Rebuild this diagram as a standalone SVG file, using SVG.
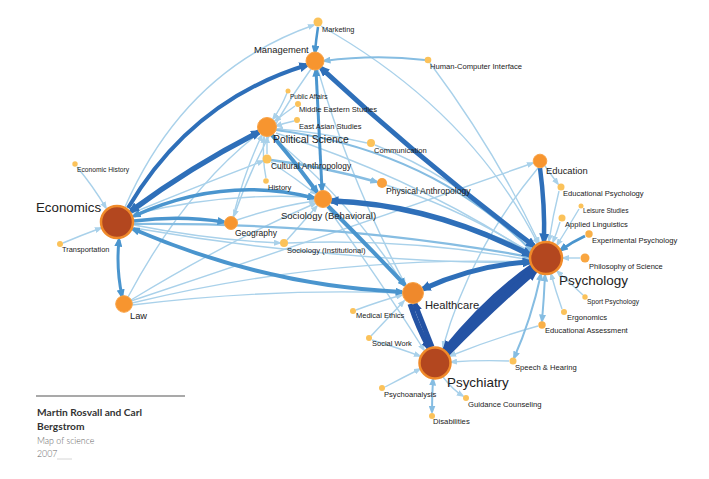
<svg xmlns="http://www.w3.org/2000/svg" width="709" height="479" viewBox="0 0 709 479">
<style>
.e{fill:none}
.c1{stroke:#a9d1ea;stroke-width:1.4}
.c2{stroke:#86bde2;stroke-width:2}
.c3{stroke:#4a95ce}
.c4{stroke:#2e6fb9}
.c5{stroke:#2453a4}
.big{fill:#b3471f;stroke:#f08a2a;stroke-width:2.5}
.mid{fill:#f7952f;stroke:#f9a448;stroke-width:1}
.sm{fill:#fbc25a}
text{font-family:"Liberation Sans",Arial,sans-serif;fill:#222}
.f6{font-size:6.6px}.f7{font-size:7.6px}.f8{font-size:8.5px}.f9{font-size:9.4px}.f10{font-size:10.4px}.f11{font-size:11.2px}.f13{font-size:13.4px}
.ft{font-family:Lato,"Liberation Sans",sans-serif}
</style>
<defs>
<marker id="m1" markerUnits="userSpaceOnUse" markerWidth="8" markerHeight="6" refX="6" refY="3" orient="auto-start-reverse"><path d="M0,0 L8,3 L0,6 z" fill="#a9d1ea"/></marker>
<marker id="m2" markerUnits="userSpaceOnUse" markerWidth="9" markerHeight="7" refX="6.5" refY="3.5" orient="auto-start-reverse"><path d="M0,0 L9,3.5 L0,7 z" fill="#86bde2"/></marker>
<marker id="m3" markerUnits="userSpaceOnUse" markerWidth="10" markerHeight="8" refX="6.5" refY="4" orient="auto-start-reverse"><path d="M0,0 L10,4 L0,8 z" fill="#4a95ce"/></marker>
<marker id="m4" markerUnits="userSpaceOnUse" markerWidth="12" markerHeight="10" refX="7.5" refY="5" orient="auto-start-reverse"><path d="M0,0 L12,5 L0,10 z" fill="#2e6fb9"/></marker>
<marker id="m5s" markerUnits="userSpaceOnUse" markerWidth="12" markerHeight="9" refX="7" refY="4.5" orient="auto-start-reverse"><path d="M0,0 L12,4.5 L0,9 z" fill="#2453a4"/></marker>
<marker id="m5" markerUnits="userSpaceOnUse" markerWidth="16" markerHeight="13" refX="9" refY="6.5" orient="auto-start-reverse"><path d="M0,0 L16,6.5 L0,13 z" fill="#2453a4"/></marker>
</defs>
<rect width="709" height="479" fill="#fff"/>
<g id="connectors" class="e">
<g class="c1" marker-end="url(#m1)">
<path d="M77,167 Q93,186 106,208"/>
<path d="M63,243 Q82,235 101,228"/>
<path d="M430,63 Q495,150 539,243"/>
<path d="M125,207 Q185,70 314,25"/>
<path d="M321,26 Q470,110 538,244"/>
<path d="M287,93 Q281,108 273,119"/>
<path d="M295,106 Q285,113 275,121"/>
<path d="M294,121 Q285,123 276,126"/>
<path d="M367,143 Q320,132 277,129"/>
<path d="M375,145 Q465,180 532,252"/>
<path d="M276,133 Q420,180 531,254"/>
<path d="M267,154 Q267,146 267,137"/>
<path d="M271,162 Q295,178 316,194"/>
<path d="M266,178 Q262,158 264,137"/>
<path d="M233,217 Q245,170 262,135"/>
<path d="M311,69 Q260,140 234,216"/>
<path d="M237,220 Q278,206 315,201"/>
<path d="M287,240 Q303,222 317,206"/>
<path d="M288,243 Q410,238 530,260"/>
<path d="M134,228 Q330,262 530,263"/>
<path d="M134,214 Q340,165 531,251"/>
<path d="M134,225 Q210,240 280,243"/>
<path d="M132,213 Q200,185 263,161"/>
<path d="M131,301 Q330,235 533,163"/>
<path d="M128,297 Q185,190 259,133"/>
<path d="M131,300 Q230,240 316,203"/>
<path d="M132,303 Q330,255 530,262"/>
<path d="M132,305 Q270,288 402,293"/>
<path d="M356,310 Q380,301 402,295"/>
<path d="M371,336 Q388,318 404,301"/>
<path d="M372,340 Q398,348 420,356"/>
<path d="M385,387 Q402,378 420,369"/>
<path d="M443,377 Q453,390 463,396"/>
<path d="M509,361 Q480,360 451,362"/>
<path d="M538,326 Q495,338 450,356"/>
<path d="M562,309 Q556,292 551,274"/>
<path d="M583,295 Q570,283 557,271"/>
<path d="M580,258 Q572,258 563,258"/>
<path d="M560,222 Q557,232 553,242"/>
<path d="M579,209 Q569,226 557,245"/>
<path d="M559,191 Q553,215 549,241"/>
<path d="M545,166 Q552,176 558,184"/>
<path d="M327,207 Q380,280 424,350"/>
<path d="M271,136 Q350,200 404,285"/>
<path d="M318,70 Q350,180 405,284"/>
<path d="M386,185 Q460,208 531,253"/>
<path d="M538,168 Q470,250 443,347"/>
</g>
<g class="c2" marker-end="url(#m2)">
<path d="M425,60 Q375,54 324,61" style="stroke-width:1.8"/>
<path d="M276,130 Q430,150 532,251"/>
<path d="M134,224 Q340,222 530,257" style="stroke-width:2.2"/>
<path d="M433,379 Q432,396 432,412" marker-start="url(#m2)"/>
<path d="M514,358 Q531,320 541,274" marker-start="url(#m2)"/>
<path d="M542,321 Q544,298 545,275" marker-start="url(#m2)"/>
<path d="M271,160 Q325,167 377,182" style="stroke-width:2.5"/>
</g>
<g class="c3" marker-end="url(#m3)">
<path d="M134,216 Q224,175 314,198" style="stroke-width:3.5" marker-start="url(#m3)"/>
<path d="M134,221 Q180,215 224,222" style="stroke-width:3.5"/>
<path d="M133,229 Q266,286 402,292" style="stroke-width:4" marker-start="url(#m3)"/>
<path d="M272,135 Q296,163 317,192" style="stroke-width:4"/>
<path d="M328,206 Q365,243 405,285" style="stroke-width:4"/>
<path d="M316,70 Q319,130 322,190" style="stroke-width:3" marker-start="url(#m3)"/>
<path d="M119,240 Q116,268 122,296" style="stroke-width:3" marker-start="url(#m3)"/>
<path d="M318,27 Q316,40 315,52" style="stroke-width:2.5"/>
<path d="M585,236 Q572,242 561,250" style="stroke-width:3"/>
</g>
<g class="c4" marker-end="url(#m4)">
<path d="M321,68 Q420,160 534,246" style="stroke-width:5" marker-start="url(#m4)"/>
<path d="M131,211 Q192,166 259,132" style="stroke-width:5.5" marker-start="url(#m4)"/>
<path d="M128,208 Q192,100 307,65" style="stroke-width:4"/>
<path d="M331,201 Q431,204 530,255" style="stroke-width:5.5" marker-start="url(#m4)"/>
<path d="M423,289 Q476,265 530,262" style="stroke-width:5" marker-start="url(#m4)"/>
<path d="M540,168 Q545,205 544,241" style="stroke-width:4.5"/>
</g>
<g class="c5">
<path d="M410,304 Q418,328 429,348" style="stroke-width:5" marker-end="url(#m5s)"/>
<path d="M432,347 Q423,324 415,304" style="stroke-width:5" marker-end="url(#m5s)"/>
<path d="M533,267 Q489,297 445,351" style="stroke-width:7" marker-end="url(#m5)"/>
<path d="M446,354 Q492,307 535,270" style="stroke-width:7" marker-end="url(#m5)"/>
</g>
</g>
<g id="nodes">
<g id="marketing"><circle class="sm" cx="318" cy="22" r="4.5"/><text class="f7" x="322" y="32" style="font-size:7.4px">Marketing</text></g>
<g id="management"><circle class="mid" cx="315" cy="61" r="9"/><text class="f9" x="254" y="53">Management</text></g>
<g id="hci"><circle class="sm" cx="428" cy="60" r="3.3"/><text class="f7" x="430" y="69">Human-Computer Interface</text></g>
<g id="public-affairs"><circle class="sm" cx="288" cy="91" r="2.5"/><text x="290" y="99" style="font-size:6.5px">Public Affairs</text></g>
<g id="middle-eastern"><circle class="sm" cx="298" cy="104" r="3"/><text class="f7" x="299" y="112">Middle Eastern Studies</text></g>
<g id="east-asian"><circle class="sm" cx="297" cy="120" r="3"/><text class="f7" x="299" y="129" style="font-size:7.5px">East Asian Studies</text></g>
<g id="political-science"><circle class="mid" cx="267" cy="127" r="9.5"/><text class="f10" x="273" y="143">Political Science</text></g>
<g id="communication"><circle class="sm" cx="371" cy="143" r="4"/><text class="f7" x="374" y="153">Communication</text></g>
<g id="cultural-anthropology"><circle class="sm" cx="267" cy="159" r="4.5"/><text x="271" y="169" style="font-size:8.4px">Cultural Anthropology</text></g>
<g id="history"><circle class="sm" cx="266" cy="181" r="2.8"/><text class="f7" x="268" y="190" style="font-size:7.5px">History</text></g>
<g id="physical-anthropology"><circle class="mid" cx="382" cy="183" r="5" style="stroke:none;fill:#f9a03c"/><text x="386" y="194" style="font-size:8.6px">Physical Anthropology</text></g>
<g id="sociology-behavioral"><circle class="mid" cx="323" cy="199" r="8.5"/><text x="281" y="219" style="font-size:9.5px">Sociology (Behavioral)</text></g>
<g id="geography"><circle class="mid" cx="231" cy="223" r="6.5"/><text class="f8" x="235" y="236">Geography</text></g>
<g id="sociology-institutional"><circle class="sm" cx="284" cy="243" r="4"/><text class="f7" x="287" y="253">Sociology (Institutional)</text></g>
<g id="economics"><circle class="big" cx="117" cy="222" r="16"/><text class="f13" x="36" y="212" style="font-size:13.3px">Economics</text></g>
<g id="economic-history"><circle class="sm" cx="75" cy="164" r="2.7"/><text x="77" y="172" style="font-size:6.7px">Economic History</text></g>
<g id="transportation"><circle class="sm" cx="60" cy="244" r="3"/><text x="62" y="252" style="font-size:7.4px">Transportation</text></g>
<g id="law"><circle class="mid" cx="124" cy="304" r="8.3"/><text x="130" y="319" style="font-size:9.3px">Law</text></g>
<g id="education"><circle class="mid" cx="540" cy="161" r="6.8"/><text class="f9" x="546" y="174">Education</text></g>
<g id="educational-psychology"><circle class="sm" cx="561" cy="187" r="3.5"/><text class="f7" x="563" y="196">Educational Psychology</text></g>
<g id="leisure-studies"><circle class="sm" cx="581" cy="206" r="2.5"/><text class="f6" x="583" y="213">Leisure Studies</text></g>
<g id="applied-linguistics"><circle class="sm" cx="562" cy="218" r="3.5"/><text class="f7" x="565" y="227">Applied Linguistics</text></g>
<g id="experimental-psychology"><circle class="sm" cx="589" cy="234" r="3.7" style="fill:#f9b048"/><text class="f7" x="592" y="243">Experimental Psychology</text></g>
<g id="philosophy-of-science"><circle class="sm" cx="585" cy="258" r="4.5" style="fill:#f9a640"/><text class="f7" x="589" y="269" style="font-size:7.5px">Philosophy of Science</text></g>
<g id="psychology"><circle class="big" cx="546" cy="258" r="16"/><text class="f13" x="559" y="285" style="font-size:13.5px">Psychology</text></g>
<g id="sport-psychology"><circle class="sm" cx="585" cy="297" r="2.7"/><text x="587" y="304" style="font-size:6.7px">Sport Psychology</text></g>
<g id="ergonomics"><circle class="sm" cx="564" cy="312" r="3"/><text class="f7" x="567" y="320">Ergonomics</text></g>
<g id="educational-assessment"><circle class="sm" cx="542" cy="325" r="3.7" style="fill:#f9b048"/><text class="f7" x="545" y="333">Educational Assessment</text></g>
<g id="healthcare"><circle class="mid" cx="413" cy="293" r="10.5" style="fill:#ef892c"/><text class="f11" x="425" y="309">Healthcare</text></g>
<g id="medical-ethics"><circle class="sm" cx="353" cy="311" r="3"/><text class="f7" x="356" y="318" style="font-size:7.5px">Medical Ethics</text></g>
<g id="social-work"><circle class="sm" cx="369" cy="338" r="3"/><text class="f7" x="372" y="346" style="font-size:7.5px">Social Work</text></g>
<g id="psychiatry"><circle class="big" cx="435" cy="363" r="15.5"/><text class="f13" x="447" y="387">Psychiatry</text></g>
<g id="speech-hearing"><circle class="sm" cx="513" cy="361" r="3.5"/><text class="f7" x="515" y="370">Speech &amp; Hearing</text></g>
<g id="psychoanalysis"><circle class="sm" cx="382" cy="388" r="3"/><text class="f7" x="384" y="397">Psychoanalysis</text></g>
<g id="guidance-counseling"><circle class="sm" cx="466" cy="398" r="3"/><text class="f7" x="468" y="407" style="font-size:7.7px">Guidance Counseling</text></g>
<g id="disabilities"><circle class="sm" cx="432" cy="416" r="3"/><text class="f7" x="433" y="424" style="font-size:7.7px">Disabilities</text></g>
</g>
<g id="caption">
<line x1="36" y1="396" x2="185" y2="396" stroke="#555" stroke-width="1.2"/>
<text class="ft" x="37" y="416" style="font-size:10.2px;font-weight:700;fill:#333">Martin Rosvall and Carl</text>
<text class="ft" x="37" y="430" style="font-size:10.2px;font-weight:700;fill:#333">Bergstrom</text>
<text class="ft" x="37" y="444" style="font-size:8.8px;font-weight:300;fill:#666">Map of science</text>
<text class="ft" x="37" y="457" style="font-size:8.8px;font-weight:300;fill:#666">2007</text>
<line x1="57" y1="459" x2="72" y2="459" stroke="#ccc" stroke-width="0.8"/>
</g>
</svg>
